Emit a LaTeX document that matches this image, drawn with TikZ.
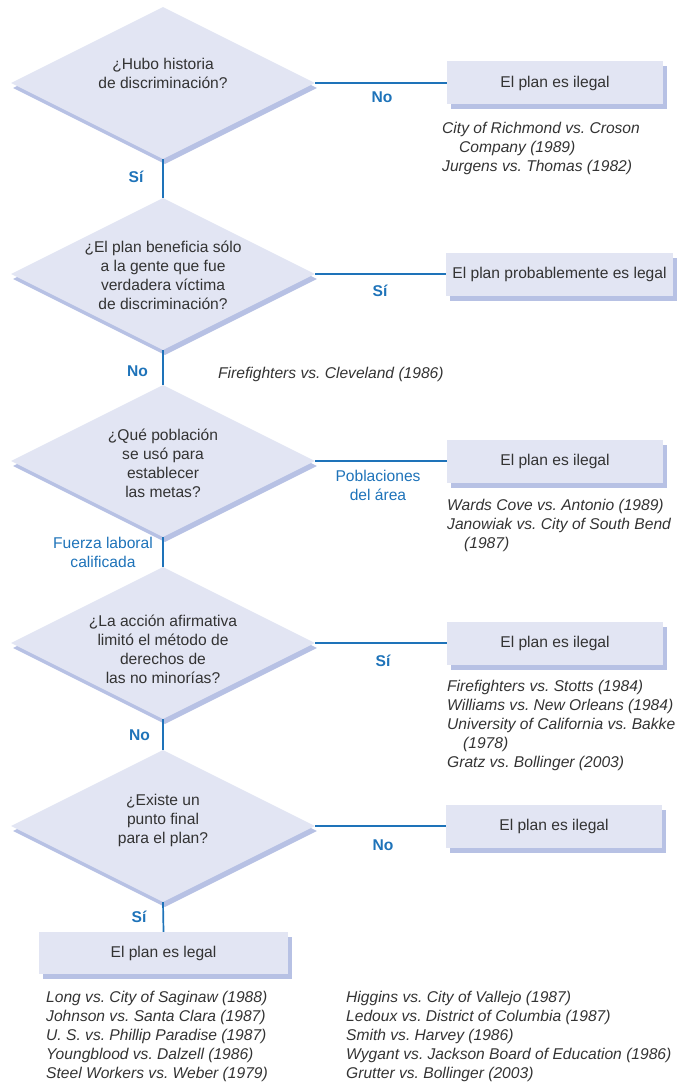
\documentclass[tikz,border=0pt]{standalone}
\usepackage{fontspec}
\setmainfont{Liberation Sans}
\usetikzlibrary{shapes.geometric,shadows}
\frenchspacing

\definecolor{qfill}{HTML}{E2E5F3}
\definecolor{qshade}{HTML}{B7C1E4}
\definecolor{flowblue}{HTML}{1E73B9}
\definecolor{ink}{HTML}{333333}

\newcommand\mainsize{\fontsize{15.6}{19}\selectfont}

\tikzset{
  question/.style={diamond, fill=qfill, minimum width=304pt, minimum height=152pt,
    inner sep=0pt, general shadow={fill=qshade, shadow xshift=2pt, shadow yshift=-5pt}},
  verdict/.style={rectangle, fill=qfill, minimum height=43pt, inner sep=0pt,
    text=ink, font=\mainsize,
    general shadow={fill=qshade, shadow xshift=4pt, shadow yshift=-5pt}},
  qtext/.style={anchor=north, align=center, inner sep=0pt, text=ink, font=\mainsize},
  cases/.style={anchor=north west, align=left, inner sep=0pt, text=ink, font=\mainsize\itshape},
  answer/.style={anchor=base, inner sep=0pt, text=flowblue, font=\mainsize\bfseries},
  answerlong/.style={anchor=north, align=center, inner sep=0pt, text=flowblue, font=\mainsize},
  link/.style={draw=flowblue, line width=1.7pt},
}

\begin{document}
\begin{tikzpicture}[x=1pt, y=-1pt]
\useasboundingbox (0,0) rectangle (677,1083);

% decision diamonds
\node[question] (q1) at (163,83)  {};
\node[question] (q2) at (163,274) {};
\node[question] (q3) at (163,461) {};
\node[question] (q4) at (163,643) {};
\node[question] (q5) at (163,826) {};

\node[qtext] (q1t) at (163,56)    {\strut¿Hubo historia\\de discriminación?};
\node[qtext] (q2t) at (163,239.4) {\strut¿El plan beneficia sólo\\a la gente que fue\\verdadera víctima\\de discriminación?};
\node[qtext] (q3t) at (163,426.7) {\strut¿Qué población\\se usó para\\establecer\\las metas?};
\node[qtext] (q4t) at (163,612.7) {\strut¿La acción afirmativa\\limitó el método de\\derechos de\\las no minorías?};
\node[qtext] (q5t) at (163,791.7) {\strut¿Existe un\\punto final\\para el plan?};

% outcomes
\node[verdict, minimum width=216pt] (r1) at (555,83)    {El plan es ilegal};
\node[verdict, minimum width=227pt] (r2) at (559.5,274) {El plan probablemente es legal};
\node[verdict, minimum width=216pt] (r3) at (555,461)   {El plan es ilegal};
\node[verdict, minimum width=216pt] (r4) at (555,643)   {El plan es ilegal};
\node[verdict, minimum width=216pt] (r5) at (554,826)   {El plan es ilegal};
\node[verdict, minimum width=249pt, minimum height=42pt] (legal) at (163.5,953) {El plan es legal};

% connectors
\draw[link] (q1.east) -- (r1.west);
\draw[link] (q2.east) -- (r2.west);
\draw[link] (q3.east) -- (r3.west);
\draw[link] (q4.east) -- (r4.west);
\draw[link] (q5.east) -- (r5.west);
\draw[link] (q1.south) -- (q2.north);
\draw[link] (q2.south) -- (q3.north);
\draw[link] (q3.south) -- (q4.north);
\draw[link] (q4.south) -- (q5.north);
\draw[link] (q5.south) -- (legal.north);

% answer labels
\node[answer] (no1)  at (382,103)  {No};
\node[answer] (yes1) at (136,183)  {Sí};
\node[answer] (yes2) at (380,296)  {Sí};
\node[answer] (no2)  at (137.5,376) {No};
\node[answerlong] (area)  at (378,467.7) {\strut Poblaciones\\del área};
\node[answerlong] (labor) at (103,534.7) {\strut Fuerza laboral\\calificada};
\node[answer] (yes4) at (383,666)  {Sí};
\node[answer] (no4)  at (139.5,740) {No};
\node[answer] (no5)  at (383,850)  {No};
\node[answer] (yes5) at (139,922)  {Sí};

% court cases
\node[cases] (c1) at (442,119.7) {\strut City of Richmond vs. Croson\\\hspace*{17pt}Company (1989)\\Jurgens vs. Thomas (1982)};
\node[cases] (c2) at (218,364.7) {\strut Firefighters vs. Cleveland (1986)};
\node[cases] (c3) at (447,496.7) {\strut Wards Cove vs. Antonio (1989)\\Janowiak vs. City of South Bend\\\hspace*{17pt}(1987)};
\node[cases] (c4) at (447,677.7) {\strut Firefighters vs. Stotts (1984)\\Williams vs. New Orleans (1984)\\University of California vs. Bakke\\\hspace*{16pt}(1978)\\Gratz vs. Bollinger (2003)};
\node[cases] (c5) at (46,988.7) {\strut Long vs. City of Saginaw (1988)\\Johnson vs. Santa Clara (1987)\\U. S. vs. Phillip Paradise (1987)\\Youngblood vs. Dalzell (1986)\\Steel Workers vs. Weber (1979)};
\node[cases] (c6) at (346,988.7) {\strut Higgins vs. City of Vallejo (1987)\\Ledoux vs. District of Columbia (1987)\\Smith vs. Harvey (1986)\\Wygant vs. Jackson Board of Education (1986)\\Grutter vs. Bollinger (2003)};
\end{tikzpicture}
\end{document}
